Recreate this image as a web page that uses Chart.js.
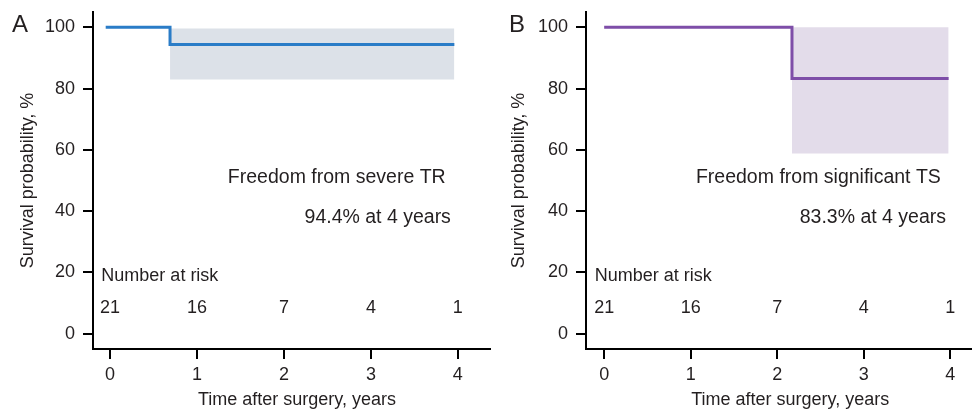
<!DOCTYPE html>
<html>
<head>
<meta charset="utf-8">
<script src="https://cdn.jsdelivr.net/npm/chart.js@4/dist/chart.umd.min.js"></script>
<style>
  html, body { margin: 0; padding: 0; background: #fff; }
  #wrap { position: relative; width: 972px; height: 409px; overflow: hidden; }
  canvas { position: absolute; top: 0; }
  #chartA { left: 0; }
  #chartB { left: 490px; }
</style>
</head>
<body>
<div id="wrap">
  <canvas id="chartA" width="492" height="409"></canvas>
  <canvas id="chartB" width="482" height="409"></canvas>
</div>
<script>
// Kaplan-Meier panels, values

const xTicks = [0, 1, 2, 3, 4];
const yTicks = [0, 20, 40, 60, 80, 100];
const riskTimes = [0, 1, 2, 3, 4];

// A: freedom from severe TR
const kmTimesA = [-0.05, 0.69, 3.96];
const kmSurvA  = [100, 94.4, 94.4];
const ciTimesA = [0.69, 3.96];
const ciUpperA = [99.6, 99.6];
const ciLowerA = [83, 83];
const atRiskA  = [21, 16, 7, 4, 1];

// B: freedom from significant TS
const kmTimesB = [0, 2.17, 3.98];
const kmSurvB  = [100, 83.3, 83.3];
const ciTimesB = [2.17, 3.98];
const ciUpperB = [100, 100];
const ciLowerB = [58.8, 58.8];
const atRiskB  = [21, 16, 7, 4, 1];

const FONT = '"Liberation Sans", Arial, Helvetica, sans-serif';
const INK = '#231f20';

const toPts = (xs, ys) => xs.map((x, i) => ({ x, y: ys[i] }));

// text inside the plot: captions, number at risk, x title, panel letter
const kmText = {
  id: 'kmText',
  afterDatasetsDraw(chart, args, opts) {
    const { ctx, scales: { x, y } } = chart;
    ctx.save();
    ctx.fillStyle = INK;
    ctx.textBaseline = 'middle';
    ctx.font = '19.5px ' + FONT;
    opts.notes.forEach(n => {
      ctx.textAlign = n.align;
      ctx.fillText(n.text, x.getPixelForValue(n.x), y.getPixelForValue(n.y));
    });
    ctx.font = '18px ' + FONT;
    ctx.textAlign = 'left';
    ctx.fillText('Number at risk', x.getPixelForValue(opts.riskLabelX), y.getPixelForValue(18.8));
    ctx.textAlign = 'center';
    opts.risk.forEach((r, i) => {
      ctx.fillText(String(r), x.getPixelForValue(riskTimes[i]), y.getPixelForValue(8.4));
    });
    ctx.fillText('Time after surgery, years', x.getPixelForValue(2.15), chart.height - 9);
    ctx.font = '24px ' + FONT;
    ctx.textAlign = 'left';
    ctx.fillText(opts.letter, opts.letterX, 25);
    ctx.restore();
  }
};

function makeKM(id, cfg) {
  const tickGrid = {
    display: true, drawOnChartArea: false, drawTicks: true,
    tickLength: 10, tickWidth: 2, tickColor: '#000', color: '#000', lineWidth: 2
  };
  const noPad = s => { s.paddingTop = 0; s.paddingBottom = 0; s.paddingLeft = 0; s.paddingRight = 0; };
  return new Chart(document.getElementById(id), {
    type: 'line',
    data: {
      datasets: [
        { data: toPts(cfg.kmTimes, cfg.kmSurv), borderColor: cfg.line, borderWidth: 3,
          stepped: true, pointRadius: 0, fill: false },
        { data: toPts(cfg.ciTimes, cfg.ciUpper), borderWidth: 0, borderColor: 'transparent',
          pointRadius: 0, fill: false },
        { data: toPts(cfg.ciTimes, cfg.ciLower), borderWidth: 0, borderColor: 'transparent',
          pointRadius: 0, fill: '-1', backgroundColor: cfg.band }
      ]
    },
    options: {
      responsive: false,
      animation: false,
      layout: { padding: { top: 12, right: cfg.padRight, left: 0, bottom: 0 } },
      plugins: {
        legend: { display: false },
        tooltip: { enabled: false },
        kmText: { notes: cfg.notes, risk: cfg.risk, riskLabelX: cfg.riskLabelX,
                  letter: cfg.letter, letterX: cfg.letterX }
      },
      scales: {
        x: {
          type: 'linear', min: cfg.xMin, max: cfg.xMax,
          afterBuildTicks: s => { s.ticks = xTicks.map(v => ({ value: v })); },
          afterFit: s => { s.height = 60; noPad(s); },
          grid: tickGrid,
          border: { display: true, color: '#000', width: 2 },
          ticks: { color: INK, padding: 5, font: { family: FONT, size: 18 } }
        },
        y: {
          type: 'linear', min: -5, max: 105,
          afterBuildTicks: s => { s.ticks = yTicks.map(v => ({ value: v })); },
          afterFit: s => { s.width = cfg.yWidth; noPad(s); },
          grid: tickGrid,
          border: { display: true, color: '#000', width: 2 },
          ticks: { color: INK, padding: 8, font: { family: FONT, size: 18 } },
          title: { display: true, text: 'Survival probability, %', color: INK,
                   font: { family: FONT, size: 18, lineHeight: 1 }, padding: { top: cfg.yTitlePad, bottom: 0 } }
        }
      }
    },
    plugins: [kmText]
  });
}

makeKM('chartA', {
  kmTimes: kmTimesA, kmSurv: kmSurvA, ciTimes: ciTimesA, ciUpper: ciUpperA, ciLower: ciLowerA,
  risk: atRiskA, line: '#2a7cc7', band: '#dce1e8',
  xMin: -0.196, xMax: 4.37, yWidth: 93, padRight: 2, yTitlePad: 19,
  letter: 'A', letterX: 12, riskLabelX: -0.1,
  notes: [
    { text: 'Freedom from severe TR', x: 3.86, y: 50.8, align: 'right' },
    { text: '94.4% at 4 years', x: 3.92, y: 37.8, align: 'right' }
  ]
});

makeKM('chartB', {
  kmTimes: kmTimesB, kmSurv: kmSurvB, ciTimes: ciTimesB, ciUpper: ciUpperB, ciLower: ciLowerB,
  risk: atRiskB, line: '#7e4ea8', band: '#e3dcea',
  xMin: -0.21, xMax: 4.25, yWidth: 96, padRight: 0, yTitlePad: 20,
  letter: 'B', letterX: 19, riskLabelX: -0.11,
  notes: [
    { text: 'Freedom from significant TS', x: 3.89, y: 50.8, align: 'right' },
    { text: '83.3% at 4 years', x: 3.95, y: 37.8, align: 'right' }
  ]
});
</script>
</body>
</html>
